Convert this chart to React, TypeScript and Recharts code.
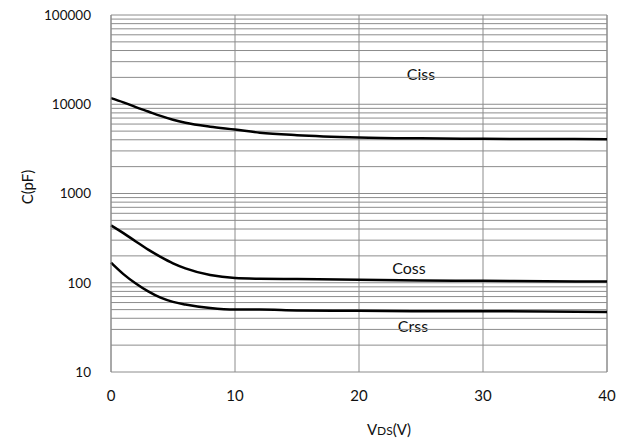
import React from 'react'
import { LineChart, Line, XAxis, YAxis, CartesianGrid, ReferenceLine } from 'recharts'

const vds = [0, 1, 2, 3, 4, 5, 6, 8, 10, 12, 15, 20, 25, 30, 35, 40]
const ciss = [11700, 10500, 9300, 8300, 7400, 6700, 6200, 5600, 5200, 4800, 4500, 4250, 4150, 4100, 4080, 4050]
const coss = [440, 360, 290, 235, 195, 165, 145, 122, 113, 111, 110, 108, 106, 105, 104, 103]
const crss = [168, 125, 98, 80, 68, 61, 57, 52, 50, 50, 49, 48.5, 48, 48, 47.5, 47]

const xTicks = [0, 10, 20, 30, 40]
const yTicks = [10, 100, 1000, 10000, 100000]
const decades = [10, 100, 1000, 10000]
const multipliers = [2, 3, 4, 5, 6, 7, 8, 9]

const FONT = 'Lato, "Open Sans", sans-serif'
const GRID = '#8c8c8c'

const toRows = (ys: number[]) => vds.map((x, i) => ({ x, y: ys[i] }))

const gridValues = decades.flatMap((d) => multipliers.map((m) => d * m)).concat([100, 1000, 10000, 100000])

export default function App() {
  return (
    <div style={{ position: 'absolute', left: 0, top: 0, background: '#fff' }}>
      <LineChart width={624} height={442} margin={{ top: 15, right: 17, bottom: 40, left: 0 }}>
        <CartesianGrid horizontal={false} stroke={GRID} strokeWidth={1} />
        {gridValues.map((v) => (
          <ReferenceLine key={v} y={v} stroke={GRID} strokeWidth={1} />
        ))}
        <ReferenceLine x={40} stroke={GRID} strokeWidth={1} />
        <XAxis
          type="number"
          dataKey="x"
          domain={[0, 40]}
          ticks={xTicks}
          height={30}
          axisLine={{ stroke: GRID }}
          tickLine={false}
          tickMargin={12}
          tick={{ fill: '#111', fontSize: 15, fontFamily: FONT }}
          label={{
            content: () => (
              <text x={389} y={435} textAnchor="middle" fill="#111" fontFamily={FONT} fontSize={15}>
                V<tspan fontSize={12}>DS</tspan>(V)
              </text>
            )
          }}
        />
        <YAxis
          type="number"
          scale="log"
          domain={[10, 100000]}
          ticks={yTicks}
          allowDataOverflow
          width={111}
          axisLine={{ stroke: GRID }}
          tickLine={false}
          tickMargin={14}
          tick={{ fill: '#111', fontSize: 13.5, fontFamily: FONT }}
          label={{
            content: () => (
              <text
                x={29}
                y={187}
                textAnchor="middle"
                dominantBaseline="middle"
                transform="rotate(-90 29 187)"
                fill="#111"
                fontFamily={FONT}
                fontSize={15}
              >
                C(pF)
              </text>
            )
          }}
        />
        <Line data={toRows(ciss)} dataKey="y" type="monotone" stroke="#000" strokeWidth={2.5} dot={false} isAnimationActive={false} />
        <Line data={toRows(coss)} dataKey="y" type="monotone" stroke="#000" strokeWidth={2.5} dot={false} isAnimationActive={false} />
        <Line data={toRows(crss)} dataKey="y" type="monotone" stroke="#000" strokeWidth={2.5} dot={false} isAnimationActive={false} />
        <text x={421} y={80} textAnchor="middle" fontFamily={FONT} fontSize={16} fill="#111">Ciss</text>
        <text x={409} y={274} textAnchor="middle" fontFamily={FONT} fontSize={16} fill="#111">Coss</text>
        <text x={413} y={332} textAnchor="middle" fontFamily={FONT} fontSize={16} fill="#111">Crss</text>
      </LineChart>
    </div>
  )
}
